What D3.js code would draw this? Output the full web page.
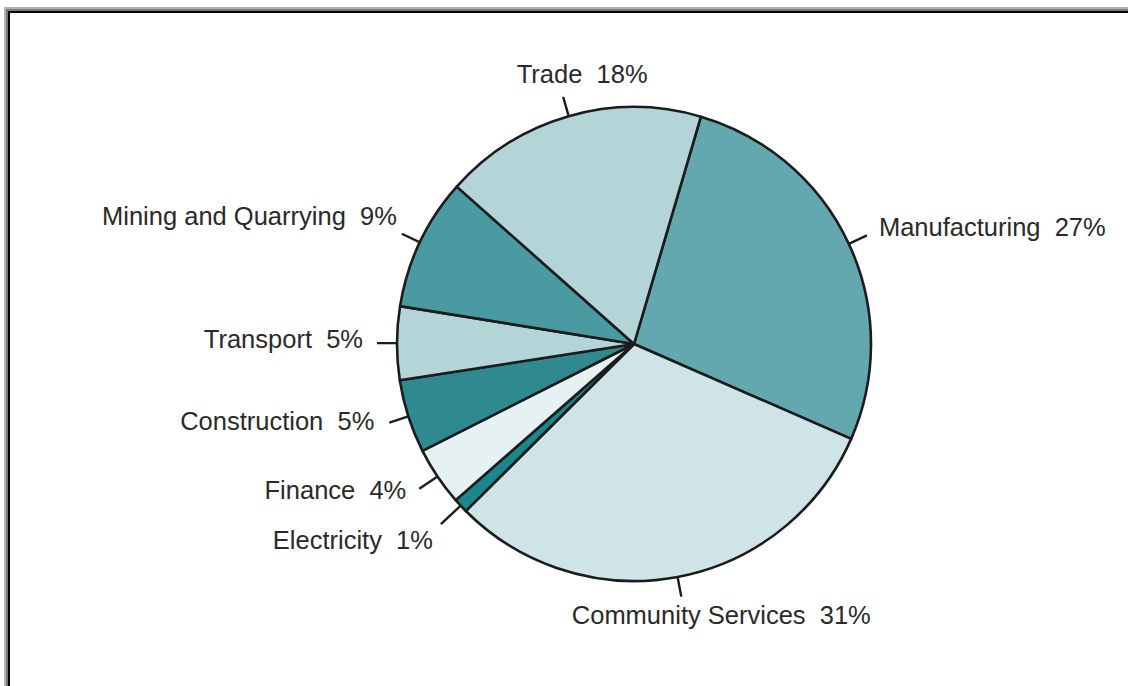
<!DOCTYPE html>
<html>
<head>
<meta charset="utf-8">
<script src="https://cdn.jsdelivr.net/npm/d3@7"></script>
<style>
  html, body { margin: 0; padding: 0; background: #fff; }
  svg { display: block; }
  text { font-family: "Liberation Sans", Arial, Helvetica, sans-serif; fill: #2a2a2a; }
</style>
</head>
<body>
<svg id="chart" width="1128" height="686"></svg>
<script>
// Share of output by sector, listed clockwise from Manufacturing
const categories = ["Manufacturing", "Community Services", "Electricity", "Finance",
                    "Construction", "Transport", "Mining and Quarrying", "Trade"];
const shares = [27, 31, 1, 4, 5, 5, 9, 18];
const colors = ["#63a8ae", "#cee4e7", "#1b878c", "#e5f1f2",
                "#2e8a8f", "#b3d5d8", "#4a9ba1", "#b3d5d8"];

// Label placement relative to the outer end of each leader tick
const labelLayout = {
  "Manufacturing":        { anchor: "start",  dx: 12,  dy: 1,   tick: 20 },
  "Community Services":   { anchor: "middle", dx: 40,  dy: 27,  tick: 20 },
  "Electricity":          { anchor: "end",    dx: -8,  dy: 25,  tick: 27 },
  "Finance":              { anchor: "end",    dx: -13, dy: 10,  tick: 22 },
  "Construction":         { anchor: "end",    dx: -15, dy: 7,   tick: 20 },
  "Transport":            { anchor: "end",    dx: -14, dy: 5,   tick: 20 },
  "Mining and Quarrying": { anchor: "end",    dx: -5,  dy: -9,  tick: 20 },
  "Trade":                { anchor: "middle", dx: 19,  dy: -14, tick: 20 }
};

const svg = d3.select("#chart");
const W = 1128, H = 686;

// Inset frame along the top and left edges
const frame = svg.append("g");
[["#b4b4b4", 4, 7], ["#7a7a7a", 6, 9], ["#000000", 8, 11]].forEach(([c, x, y]) => {
  frame.append("rect").attr("x", x).attr("y", y).attr("width", W - x).attr("height", 2).attr("fill", c);
  frame.append("rect").attr("x", x).attr("y", y).attr("width", 2).attr("height", H - y).attr("fill", c);
});

const cx = 634, cy = 344, radius = 237;
const deg = Math.PI / 180;
const start = 16.4 * deg;

const pie = d3.pie().sort(null).value(d => d.value)
  .startAngle(start).endAngle(start + 2 * Math.PI);
const data = categories.map((c, i) => ({ name: c, value: shares[i], color: colors[i] }));
const arcs = pie(data);
const arc = d3.arc().innerRadius(0).outerRadius(radius);

const g = svg.append("g").attr("transform", `translate(${cx},${cy})`);

g.selectAll("path.slice").data(arcs).join("path")
  .attr("class", "slice")
  .attr("d", arc)
  .attr("fill", d => d.data.color)
  .attr("stroke", "#1c1c1c")
  .attr("stroke-width", 2.6)
  .attr("stroke-linejoin", "round");

// Leader ticks and labels
const pt = (a, r) => [Math.sin(a) * r, -Math.cos(a) * r];
arcs.forEach(d => {
  const L = labelLayout[d.data.name];
  const mid = (d.startAngle + d.endAngle) / 2;
  const p0 = pt(mid, radius);
  const p1 = pt(mid, radius + L.tick);
  g.append("line")
    .attr("x1", p0[0]).attr("y1", p0[1])
    .attr("x2", p1[0]).attr("y2", p1[1])
    .attr("stroke", "#1c1c1c").attr("stroke-width", 2.4);
  g.append("text")
    .attr("x", p1[0] + L.dx)
    .attr("y", p1[1] + L.dy)
    .attr("text-anchor", L.anchor)
    .attr("font-size", 25.5)
    .text(`${d.data.name}\u00A0\u00A0${d.data.value}%`);
});
</script>
</body>
</html>
